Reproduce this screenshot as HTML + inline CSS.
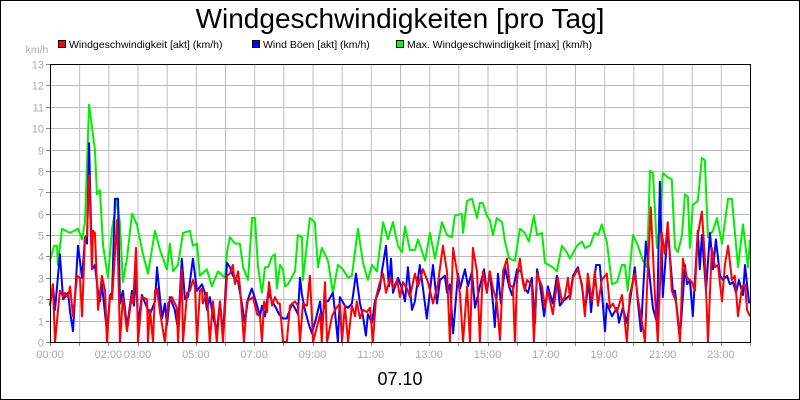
<!DOCTYPE html>
<html><head><meta charset="utf-8"><style>
body{margin:0;background:#fff}
svg{display:block;font-family:"Liberation Sans",sans-serif}
</style></head><body>
<svg id="c" width="800" height="400" xmlns="http://www.w3.org/2000/svg">
<rect x="0.5" y="0.5" width="799" height="399" fill="#fff" stroke="#000"/>
<text x="400" y="28" font-size="28" text-anchor="middle" fill="#000">Windgeschwindigkeiten [pro Tag]</text>
<g font-size="10.5">
<g><rect x="58.5" y="40.5" width="7" height="7" fill="#f00" stroke="#000"/><text x="69" y="48">Windgeschwindigkeit [akt] (km/h)</text></g>
<g><rect x="252.5" y="40.5" width="7" height="7" fill="#00f" stroke="#000"/><text x="263" y="48">Wind Böen [akt] (km/h)</text></g>
<g><rect x="396.5" y="40.5" width="7" height="7" fill="#0f0" stroke="#000"/><text x="407" y="48">Max. Windgeschwindigkeit [max] (km/h)</text></g>
</g>
<text x="37" y="53" font-size="10.5" fill="#aaa" text-anchor="middle">km/h</text>
<text x="400" y="385" font-size="18" text-anchor="middle">07.10</text>
<g id="grid"></g><g id="series"></g>
<rect x="50.5" y="64.5" width="700" height="278" fill="none" stroke="#000"/>
</svg>
<script>
const yTicks=[0,1,2,3,4,5,6,7,8,9,10,11,12,13];
const xTickLabels=["00:00","02:00","03:00","05:00","07:00","09:00","11:00","13:00","15:00","17:00","19:00","21:00","23:00"];
const xTickHours=[0,2,3,5,7,9,11,13,15,17,19,21,23];
const maxT=[0,.14,.24,.27,.41,.69,.96,1.10,1.20,1.34,1.54,1.61,1.71,1.82,1.99,2.13,2.30,2.40,2.50,2.64,2.81,2.98,3.19,3.36,3.60,3.77,4.01,4.11,4.22,4.39,4.56,4.80,4.90,5.04,5.14,5.38,5.55,5.76,6.00,6.07,6.17,6.34,6.51,6.62,6.79,6.93,7.03,7.13,7.27,7.37,7.48,7.61,7.71,7.78,7.89,7.99,8.06,8.16,8.40,8.50,8.64,8.67,8.91,9.08,9.19,9.32,9.43,9.53,9.70,9.87,10.04,10.22,10.35,10.56,10.73,10.90,11.04,11.21,11.42,11.59,11.76,11.93,12.07,12.17,12.34,12.51,12.62,12.86,13.03,13.20,13.44,13.61,13.78,13.88,14.12,14.16,14.30,14.47,14.64,14.74,14.84,14.98,15.08,15.19,15.32,15.50,15.60,15.74,15.94,16.11,16.28,16.42,16.59,16.70,16.87,16.97,17.24,17.38,17.55,17.72,17.83,18.07,18.24,18.34,18.51,18.68,18.79,18.92,19.09,19.27,19.44,19.61,19.71,19.81,19.99,20.16,20.33,20.47,20.57,20.67,20.81,20.91,21.01,21.18,21.32,21.43,21.53,21.67,21.77,21.87,21.94,22.04,22.21,22.35,22.45,22.56,22.73,22.87,23.04,23.25,23.38,23.48,23.59,23.76,23.93,24];
const maxV=[3.8,4.5,4.5,3.6,5.3,5.1,5.3,4.8,5.6,11.1,9,6.9,7.1,4.5,3,5.3,6.7,5.5,2.8,3.9,6,5.5,4.1,3.2,5.2,4.3,3.4,4.6,3.3,3.6,5.1,5.2,4.5,4.6,3.1,3.4,2.6,3.3,3,4.2,4.9,4.6,4.6,3.5,2.9,5.8,5.8,3.5,2.3,3.5,3.5,4,4.1,2.5,3.6,3.4,2.6,2.7,3.3,5,4.9,2.9,5.8,5.6,3.5,4.4,4.1,3.8,2.3,3.6,3.4,3,3.1,5.3,3.7,2.9,3.6,3.3,5.6,4.8,5.6,4.5,4.2,5.4,4.3,4.3,4.8,3.8,5.1,3.9,5.6,5,4.9,5.9,6,5.1,6.6,6.7,5.8,6.5,6.5,5.9,5.7,5,5.8,5.6,4.7,3.9,3.8,5.3,5.1,4.7,5.9,5,5.1,3.7,3.5,3.3,4.5,4.2,3.9,4.5,4.7,4.4,4.5,5.1,5,5.5,4.7,2.7,2.8,3.6,3.6,2.4,5,4.5,3.8,3.5,8,7.9,4.4,5.4,7.9,7.7,7.6,4.4,4.2,5,6.9,6.8,4.4,6.4,6.6,8.6,8.5,4.9,5.2,5.8,4.6,6.7,6.7,5.2,3.5,5.5,3.5,4.8];
const gustT=[0,.10,.17,.34,.45,.62,.69,.79,.96,1.10,1.20,1.27,1.34,1.44,1.54,1.65,1.71,1.78,1.95,2.06,2.13,2.23,2.33,2.40,2.50,2.64,2.81,2.88,2.95,3.02,3.15,3.33,3.43,3.60,3.67,3.84,3.94,4.01,4.11,4.28,4.39,4.52,4.63,4.73,4.90,5.04,5.21,5.31,5.38,5.48,5.59,5.72,5.83,5.93,6.07,6.17,6.27,6.45,6.58,6.68,6.79,6.92,7.10,7.20,7.27,7.37,7.48,7.61,7.75,7.85,7.99,8.12,8.30,8.43,8.50,8.57,8.64,8.74,8.88,8.98,9.12,9.26,9.32,9.43,9.53,9.70,9.77,9.87,9.94,10.11,10.22,10.35,10.49,10.63,10.73,10.83,10.90,11.04,11.14,11.31,11.38,11.52,11.62,11.69,11.76,11.93,12.07,12.17,12.27,12.41,12.51,12.68,12.79,12.92,13.13,13.27,13.37,13.54,13.61,13.71,13.82,13.99,14.06,14.23,14.33,14.47,14.57,14.74,14.88,14.98,15.08,15.19,15.25,15.36,15.46,15.60,15.74,15.84,16.01,16.15,16.28,16.39,16.52,16.63,16.70,16.80,16.94,17.07,17.24,17.38,17.48,17.59,17.83,17.93,18.10,18.24,18.34,18.48,18.55,18.72,18.85,19.03,19.09,19.27,19.44,19.51,19.64,19.78,20.05,20.16,20.26,20.43,20.57,20.67,20.81,20.91,21.01,21.18,21.36,21.43,21.60,21.77,21.84,21.94,22.04,22.21,22.28,22.35,22.49,22.63,22.73,22.83,22.97,23.07,23.21,23.31,23.42,23.52,23.62,23.76,23.83,23.97];
const gustV=[1.7,2.7,1.5,4.1,2,2.3,1.4,.5,4.5,3,4.9,4.6,9.3,3.4,3.6,2.3,1.9,2.7,.5,2.2,2.3,6.7,6.7,1.8,2.4,.7,2.4,1.7,3.3,.8,2.2,1.6,1.3,1.9,3.5,1.1,1.8,.8,2.1,1.5,.6,3.9,2,2.1,3.9,2.4,2.7,2.3,1.5,2.1,1.2,.5,1.9,.3,3.7,3.5,3.1,2.8,1.8,.9,2,2.5,1.7,1.2,1.7,1.2,2.3,1.9,1.6,1.3,1.1,1.1,1.8,1.5,1.3,3,2.2,1.5,.8,.4,1.1,1.9,1,1.9,1.9,2.3,1.4,0,2.1,1.7,1.6,1.8,3.2,1.8,1.2,.3,1.3,.9,1.9,2.5,3.3,4.5,2.6,3.9,2.3,3,2.5,1.9,3.5,1.5,1.9,3.6,2.5,1.1,3.6,1.8,2.9,3.1,2.3,2.7,.4,3.2,2.5,3.4,2.6,3.3,1.6,2.6,3.4,2.3,3.3,1.8,.7,3.2,1.8,3.5,2.6,2.2,3.4,3.3,2.5,2.3,3,.9,3.4,2.7,1.2,2.6,1.8,3.1,1.7,1.9,2.2,3.1,3.5,2.6,1.5,2.8,1.4,3.6,3.6,.5,1.8,1.2,1.6,.9,1.6,.9,3.5,1.8,.5,4.7,2.9,1.6,.9,7.5,2.1,5.3,2.3,2.4,.2,3.6,2.7,2.9,1.2,5.2,3.4,5,2.4,5.1,3.4,4.8,3.1,2.9,3.1,2.7,2.8,2.3,2.9,2.2,3.6,1.8];
const windT=[0,.10,.17,.34,.45,.51,.62,.69,.79,.93,1.03,1.10,1.20,1.27,1.34,1.44,1.47,1.54,1.65,1.78,1.89,1.95,2.06,2.13,2.30,2.40,2.50,2.64,2.81,2.85,2.95,3.02,3.15,3.33,3.36,3.43,3.53,3.60,3.67,3.77,3.94,4.05,4.18,4.35,4.39,4.52,4.56,4.70,4.80,4.90,4.97,5.04,5.14,5.21,5.24,5.38,5.48,5.59,5.72,5.83,5.93,6.07,6.17,6.27,6.34,6.45,6.51,6.65,6.75,6.96,7.10,7.20,7.27,7.34,7.44,7.51,7.61,7.71,7.82,7.88,7.99,8.12,8.23,8.40,8.50,8.57,8.67,8.81,8.91,9.02,9.26,9.32,9.43,9.50,9.67,9.77,9.94,10.01,10.11,10.22,10.35,10.46,10.52,10.63,10.73,10.87,10.97,11.07,11.18,11.31,11.42,11.52,11.66,11.76,11.90,12.00,12.10,12.24,12.34,12.51,12.62,12.79,12.96,13.13,13.30,13.47,13.61,13.71,13.82,13.95,14.06,14.16,14.30,14.40,14.50,14.64,14.74,14.84,14.98,15.08,15.19,15.32,15.43,15.53,15.67,15.77,15.87,15.94,16.01,16.11,16.21,16.28,16.35,16.52,16.59,16.70,16.87,16.97,17.07,17.24,17.41,17.55,17.65,17.76,17.83,17.93,18.10,18.24,18.34,18.44,18.58,18.68,18.79,18.92,19.09,19.20,19.30,19.44,19.61,19.78,19.88,20.05,20.16,20.30,20.40,20.47,20.60,20.74,20.84,20.98,21.08,21.18,21.32,21.46,21.60,21.70,21.84,22.01,22.11,22.21,22.35,22.45,22.56,22.69,22.80,22.90,23.04,23.14,23.25,23.38,23.48,23.59,23.73,23.83,23.90,24];
const windV=[1.7,2.7,0,2.4,2.1,2.3,2.1,2.6,1.2,3.1,3,1.2,4.9,5,7.8,3.4,5.2,5.1,1.5,3.1,2.4,0,2.2,2,5.7,0,2.1,.5,2.2,1.8,4.4,0,2.1,2,0,1.5,0,2.4,2.5,1.4,0,1.8,2.1,1.6,0,3.4,0,2.3,2.4,2.9,2.6,0,2.4,2.5,1.8,2.3,0,1.9,0,1.9,0,3.1,3.2,3.6,2.7,3.3,2.6,0,1.9,2.1,1.3,1.2,0,1.9,1.4,2.8,1.7,2.1,1.8,1.8,0,0,1.7,1.9,1.7,0,1.8,1.7,3.1,0,1.3,0,2.8,0,1.2,1.5,1.8,0,1.7,0,1.7,1.2,1.9,1.1,1.5,1.4,1.6,0,2.1,2.8,3.2,2.3,3,2.5,2.9,2.1,2.8,2.5,2.1,3.2,2.6,3.4,2.8,1.8,2.7,4.5,3.3,0,4.4,3.3,2.2,0,2.6,0,4.4,3.3,0,3.3,2.3,3.3,2.5,1.9,.1,3.3,3.9,2.6,2.6,0,2.9,3.9,2.8,2.4,2.9,2.7,0,3.2,2.6,1.6,2.4,1.3,3,1.9,2.1,3,2,3,3.4,2.7,1.2,3.2,1.9,3.3,1.7,2.9,3.2,1.6,1.8,1.4,2.2,0,2.2,3.2,2,.9,0,2.5,6.3,2.2,0,5.1,4.1,5.6,2.4,1.9,0,3.9,3,2.8,2.4,5,6.1,4,0,4.4,3.5,3.6,1.9,3.6,4.5,2.9,3.1,1.2,2.6,2.7,1.5,1.2];

const NS='http://www.w3.org/2000/svg';
const L=50,R=750,T=64,B=342,YMAX=13;
const xs=h=>L+(R-L)*h/24;
const ys=v=>B-(B-T)*v/YMAX;
const grid=document.getElementById('grid'),ser=document.getElementById('series');
function mk(tag,attrs,parent){const e=document.createElementNS(NS,tag);for(const k in attrs)e.setAttribute(k,attrs[k]);parent.appendChild(e);return e;}
for(let h=1;h<24;h++){
  const l=mk('line',{x1:xs(h)+.5,x2:xs(h)+.5,y1:T,y2:B,stroke:'#bbb'},grid);
  
  
}
for(let h=0;h<=24;h++){
  const t=mk('line',{x1:Math.round(xs(h))+.5,x2:Math.round(xs(h))+.5,y1:B,y2:B+4,stroke:'#888'},grid);
  
  
}
yTicks.forEach(v=>{
  const y=Math.round(ys(v))+.5;
  if(v>0&&v<13){const l=mk('line',{x1:L,x2:R,y1:y,y2:y,stroke:'#bbb'},grid);
    
    }
  const tk=mk('line',{x1:L-4,x2:L,y1:y,y2:y,stroke:'#888'},grid);
  
  
  const t=mk('text',{x:L-6,y:y+4,'font-size':11,fill:'#aaa','text-anchor':'end'},grid);
  t.textContent=v;
  
  
});
xTickLabels.forEach((s,i)=>{
  const t=mk('text',{x:xs(xTickHours[i]),y:358,'font-size':11,fill:'#aaa','text-anchor':'middle'},grid);
  t.textContent=s;
  
  
});
function line(T_,V,color,name){
  const d=T_.map((t,i)=>(i?'L':'M')+xs(t).toFixed(1)+' '+ys(V[i]).toFixed(1)).join(' ');
  const p=mk('path',{d:d,fill:'none',stroke:color,'stroke-width':2,'stroke-linejoin':'round'},ser);
  
  
}
line(maxT,maxV,'#00ee00','series-max-wind');
line(gustT,gustV,'#0000ff','series-gusts');
line(windT,windV,'#ff0000','series-wind-speed');
</script>
</body></html>
